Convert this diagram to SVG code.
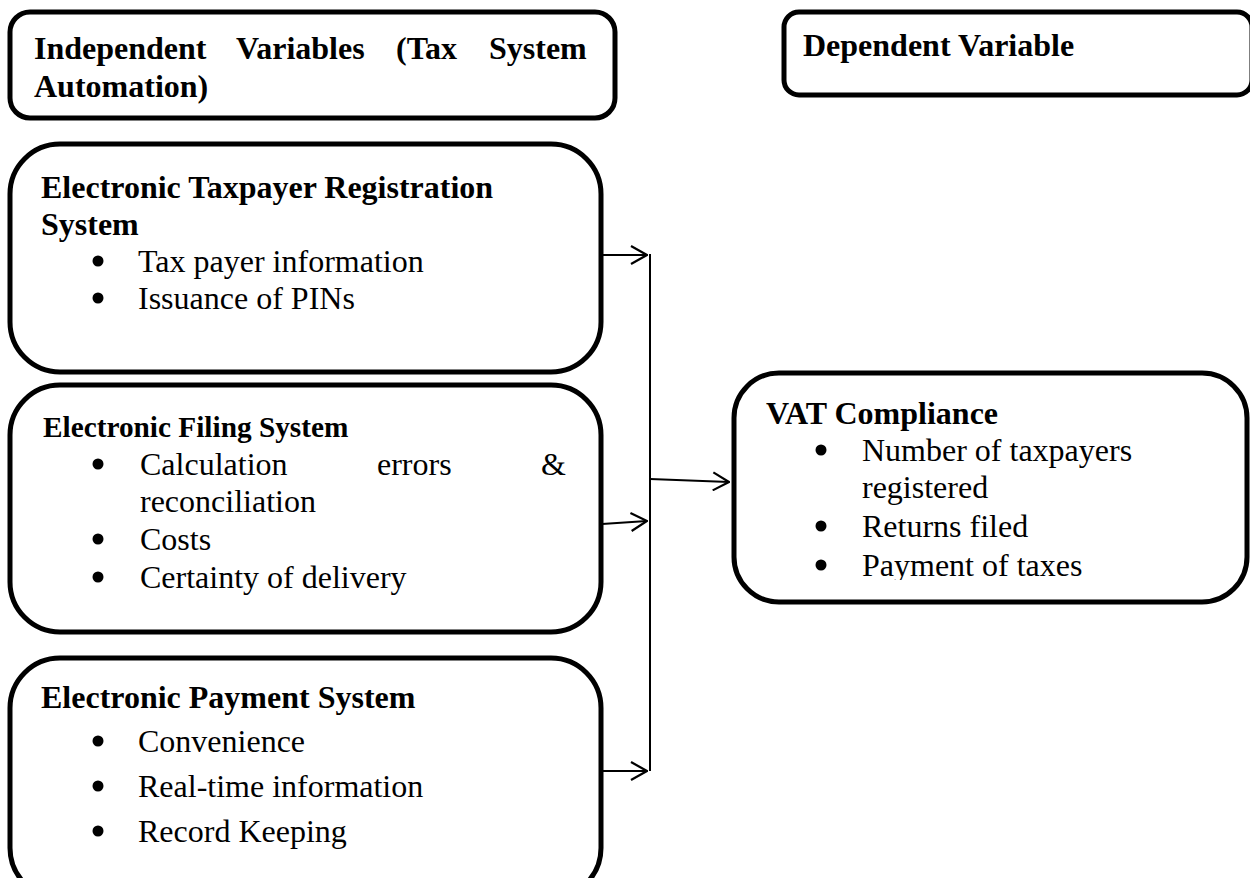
<svg xmlns="http://www.w3.org/2000/svg" width="1250" height="878" viewBox="0 0 1250 878">
<style>
.box{fill:#fff;stroke:#000;stroke-width:5}
.h{font-family:"Liberation Serif","Times New Roman",serif;font-weight:bold;font-size:32px;fill:#000}
.hs{font-family:"Liberation Serif","Times New Roman",serif;font-weight:bold;font-size:29.3px;fill:#000}
.t{font-family:"Liberation Serif","Times New Roman",serif;font-size:32px;fill:#000}
.b{fill:#000}
.c{stroke:#000;stroke-width:2;fill:none}
</style>
<defs>
<marker id="ah" viewBox="0 0 20 20" refX="19" refY="10" markerWidth="20" markerHeight="20" markerUnits="userSpaceOnUse" orient="auto">
<path d="M3,1 L19,10 L3,19" fill="none" stroke="#000" stroke-width="2.2"/>
</marker>
<clipPath id="vclip"><rect x="734" y="373" width="513" height="207"/></clipPath>
</defs>
<rect width="1250" height="878" fill="#fff"/>
<g id="indep">
<rect class="box" x="10" y="12" width="605" height="106" rx="20"/>
<text class="h" y="59"><tspan x="34">Independent</tspan><tspan x="236">Variables</tspan><tspan x="396">(Tax</tspan><tspan x="489">System</tspan></text>
<text class="h" x="34" y="97">Automation)</text>
</g>
<g id="dep">
<rect class="box" x="784" y="12" width="468" height="83" rx="15"/>
<text class="h" x="803" y="56">Dependent Variable</text>
</g>
<g id="etrs">
<rect class="box" x="10" y="144" width="591" height="228" rx="50"/>
<text class="h" x="41" y="198">Electronic Taxpayer Registration</text>
<text class="h" x="41" y="235">System</text>
<circle class="b" cx="98" cy="261" r="5.5"/>
<text class="t" x="138" y="272">Tax payer information</text>
<circle class="b" cx="98" cy="298" r="5.5"/>
<text class="t" x="138" y="309">Issuance of PINs</text>
</g>
<g id="efs">
<rect class="box" x="10" y="385" width="591" height="247" rx="50"/>
<text class="hs" x="43" y="437">Electronic Filing System</text>
<circle class="b" cx="98" cy="464" r="5.5"/>
<text class="t" y="475"><tspan x="140">Calculation</tspan><tspan x="377">errors</tspan><tspan x="541">&amp;</tspan></text>
<text class="t" x="140" y="512">reconciliation</text>
<circle class="b" cx="98" cy="539" r="5.5"/>
<text class="t" x="140" y="550">Costs</text>
<circle class="b" cx="98" cy="577" r="5.5"/>
<text class="t" x="140" y="588">Certainty of delivery</text>
</g>
<g id="eps">
<rect class="box" x="10" y="658" width="591" height="240" rx="50"/>
<text class="h" x="41" y="708">Electronic Payment System</text>
<circle class="b" cx="98" cy="741" r="5.5"/>
<text class="t" x="138" y="752">Convenience</text>
<circle class="b" cx="98" cy="786" r="5.5"/>
<text class="t" x="138" y="797">Real-time information</text>
<circle class="b" cx="98" cy="831" r="5.5"/>
<text class="t" x="138" y="842">Record Keeping</text>
</g>
<g id="vat">
<rect class="box" x="734" y="373" width="513" height="229" rx="45"/>
<text class="h" x="766" y="424">VAT Compliance</text>
<circle class="b" cx="821" cy="450" r="5.5"/>
<text class="t" x="862" y="461">Number of taxpayers</text>
<text class="t" x="862" y="498">registered</text>
<circle class="b" cx="821" cy="526" r="5.5"/>
<text class="t" x="862" y="537">Returns filed</text>
<circle class="b" cx="821" cy="565" r="5.5"/>
<text class="t" x="862" y="576" clip-path="url(#vclip)">Payment of taxes</text>
</g>
<g id="connectors">
<line class="c" x1="650" y1="254" x2="650" y2="771"/>
<line class="c" x1="602" y1="255" x2="647" y2="255" marker-end="url(#ah)"/>
<line class="c" x1="602" y1="524" x2="647" y2="521" marker-end="url(#ah)"/>
<line class="c" x1="602" y1="771" x2="647" y2="771" marker-end="url(#ah)"/>
<line class="c" x1="650" y1="479" x2="729" y2="482" marker-end="url(#ah)"/>
</g>
</svg>
